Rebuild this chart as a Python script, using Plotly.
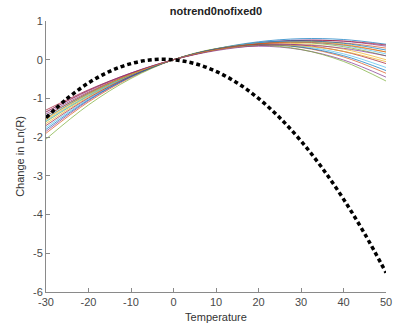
import plotly.graph_objects as go

temps = [-30, -20, -10, 0, 10, 20, 30, 40, 50]

curves = [
    [-1.45, -0.866, -0.383, 0, 0.282, 0.463, 0.543, 0.522, 0.40],
    [-1.35, -0.803, -0.353, 0, 0.255, 0.413, 0.473, 0.435, 0.30],
    [-1.55, -0.914, -0.398, 0, 0.278, 0.437, 0.477, 0.398, 0.20],
    [-1.40, -0.834, -0.368, 0, 0.268, 0.437, 0.507, 0.478, 0.35],
    [-1.60, -0.938, -0.405, 0, 0.277, 0.425, 0.445, 0.337, 0.10],
    [-1.75, -1.011, -0.428, 0, 0.272, 0.388, 0.348, 0.152, -0.20],
    [-1.30, -0.777, -0.344, 0, 0.255, 0.420, 0.496, 0.483, 0.38],
    [-1.50, -0.888, -0.388, 0, 0.275, 0.438, 0.488, 0.425, 0.25],
    [-1.90, -1.091, -0.458, 0, 0.282, 0.388, 0.318, 0.072, -0.35],
    [-1.65, -0.963, -0.413, 0, 0.275, 0.413, 0.413, 0.275, 0.00],
    [-1.85, -1.057, -0.440, 0, 0.263, 0.350, 0.260, -0.007, -0.45],
    [-2.05, -1.168, -0.485, 0, 0.287, 0.375, 0.265, -0.044, -0.55],
    [-1.58, -0.929, -0.403, 0, 0.278, 0.433, 0.462, 0.368, 0.15],
    [-1.70, -0.987, -0.420, 0, 0.273, 0.400, 0.380, 0.213, -0.10],
    [-1.80, -1.036, -0.436, 0, 0.272, 0.380, 0.324, 0.104, -0.28],
    [-1.45, -0.856, -0.372, 0, 0.262, 0.412, 0.452, 0.381, 0.20],
    [-1.52, -0.884, -0.378, 0, 0.248, 0.368, 0.357, 0.218, -0.05],
    [-1.35, -0.793, -0.343, 0, 0.235, 0.363, 0.383, 0.295, 0.10],
]

black_temps = [-30, -25, -20, -15, -10, -5, 0, 5, 10, 15, 20, 25, 30, 35, 40, 45, 50]
black_vals = [-1.5, -1.0, -0.6, -0.3, -0.1, 0.0, 0.0, -0.1, -0.3, -0.6, -1.0, -1.5, -2.1, -2.8, -3.6, -4.5, -5.5]

colors = ["#0072BD", "#D95319", "#EDB120", "#7E2F8E", "#77AC30", "#4DBEEE", "#A2142F"]

x_ticks = [-30, -20, -10, 0, 10, 20, 30, 40, 50]
y_ticks = [1, 0, -1, -2, -3, -4, -5, -6]

fig = go.Figure()
for i, c in enumerate(curves):
    fig.add_trace(go.Scatter(x=temps, y=c, mode="lines",
                             line=dict(color=colors[i % len(colors)], width=0.7, shape="spline"),
                             showlegend=False, hoverinfo="skip"))
fig.add_trace(go.Scatter(x=black_temps, y=black_vals, mode="lines",
                         line=dict(color="black", width=3.5, dash="4px,3px", shape="spline"),
                         showlegend=False, hoverinfo="skip"))

axis_common = dict(showgrid=False, zeroline=False, showline=True, linecolor="#8a8a8a",
                   linewidth=1, ticks="inside", ticklen=4, tickcolor="#8a8a8a",
                   tickfont=dict(family="Liberation Sans, Arial", size=11, color="#4a4a4a"),
                   mirror=False, automargin=False)

fig.update_layout(
    width=398, height=327,
    margin=dict(l=46, r=12, t=21, b=35, autoexpand=False),
    paper_bgcolor="white", plot_bgcolor="white",
    title=dict(text="<b>notrend0nofixed0</b>", x=216 / 398, xanchor="center",
               y=1 - 11 / 327, yanchor="middle",
               font=dict(family="Liberation Sans, Arial", size=11, color="#222")),
    xaxis=dict(range=[-30, 50], tickvals=x_ticks, ticktext=[str(v) for v in x_ticks],
               title=dict(text="Temperature", standoff=6,
                          font=dict(family="Liberation Sans, Arial", size=11, color="#333")),
               **axis_common),
    yaxis=dict(range=[-6, 1], tickvals=y_ticks, ticktext=[str(v) for v in y_ticks],
               title=dict(text="Change in Ln(R)", standoff=6,
                          font=dict(family="Liberation Sans, Arial", size=11, color="#333")),
               **axis_common),
)

fig.write_html("out.html")
